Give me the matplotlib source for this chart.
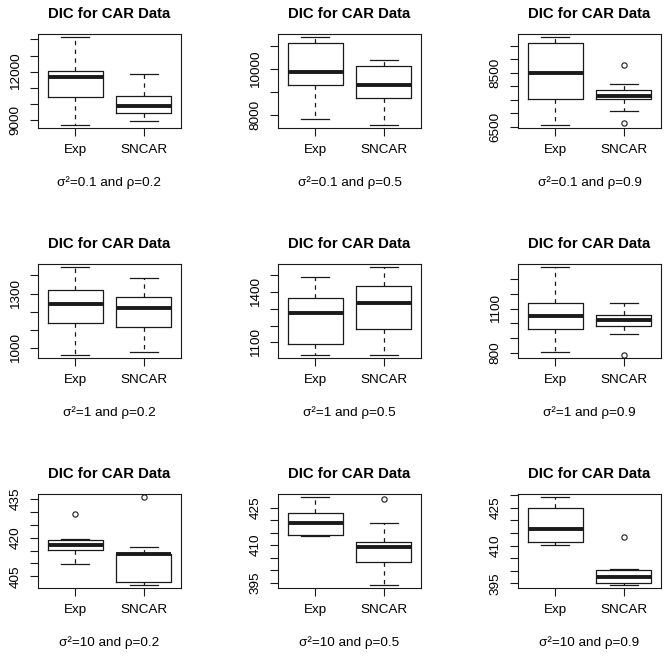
import matplotlib
matplotlib.use("Agg")
import matplotlib.pyplot as plt

plt.rcParams['font.family'] = ['Liberation Sans', 'DejaVu Sans']

groups = ["Exp", "SNCAR"]
sigma2 = ["0.1", "1", "10"]
rho = ["0.2", "0.5", "0.9"]

# five-number summaries: whislo, q1, med, q3, whishi
exp_stats = [
    [8711, 10412, 11639, 12062, 14124],
    [7813, 9317, 9885, 11130, 11374],
    [6574, 7537, 8512, 9599, 9821],
    [963, 1138, 1241, 1318, 1444],
    [1026, 1090, 1274, 1364, 1488],
    [811, 960, 1047, 1134, 1376],
    [409.8, 415.1, 417.2, 419.1, 419.4],
    [413.7, 414.1, 418.8, 422.9, 429.0],
    [410.1, 411.4, 416.6, 425.0, 429.1],
]
sncar_stats = [
    [8918, 9412, 9866, 10495, 11825],
    [7583, 8727, 9288, 10144, 10388],
    [7080, 7537, 7636, 7877, 8099],
    [976, 1115, 1218, 1280, 1387],
    [1026, 1178, 1334, 1436, 1548],
    [927, 983, 1022, 1056, 1134],
    [401.8, 402.7, 413.5, 413.5, 416.2],
    [394.3, 403.1, 409.1, 411.2, 418.7],
    [394.5, 395.1, 397.6, 400.2, 400.5],
]
exp_out = [[], [], [], [], [], [], [429.1], [], []]
sncar_out = [[], [], [8778, 6636], [], [], [791], [435.6], [428.3], [413.2]]

# y axis ticks and the labels R kept
y_ticks = [
    [9000, 10000, 11000, 12000, 13000, 14000],
    [8000, 9000, 10000, 11000],
    [6500, 7000, 7500, 8000, 8500, 9000, 9500],
    [1000, 1100, 1200, 1300, 1400],
    [1100, 1200, 1300, 1400, 1500],
    [800, 900, 1000, 1100, 1200, 1300],
    [405, 410, 415, 420, 425, 430, 435],
    [395, 400, 405, 410, 415, 420, 425],
    [395, 400, 405, 410, 415, 420, 425, 430],
]
y_labels = [
    [9000, 12000], [8000, 10000], [6500, 8500],
    [1000, 1300], [1100, 1400], [800, 1100],
    [405, 420, 435], [395, 410, 425], [395, 410, 425],
]

W, H = 669, 657
fig = plt.figure(figsize=(W / 100, H / 100), dpi=100)

col_left = [38, 278, 518]
row_top = [34, 264, 494]
aw, ah = 143, 94
lc = "#1a1a1a"

for i in range(9):
    r, c = divmod(i, 3)
    ax = fig.add_axes([col_left[c] / W, 1 - (row_top[r] + ah) / H, aw / W, ah / H])
    st = []
    for s, o, lab in ((exp_stats[i], exp_out[i], groups[0]),
                      (sncar_stats[i], sncar_out[i], groups[1])):
        st.append(dict(whislo=s[0], q1=s[1], med=s[2], q3=s[3], whishi=s[4],
                       fliers=o, label=lab))
    ax.bxp(st, positions=[1, 2], widths=0.8, capwidths=0.4, patch_artist=False,
           boxprops=dict(color=lc, lw=0.9),
           medianprops=dict(color=lc, lw=2.8, solid_capstyle='butt'),
           whiskerprops=dict(color=lc, lw=0.9, linestyle=(0, (3.5, 3.5))),
           capprops=dict(color=lc, lw=0.9),
           flierprops=dict(marker='o', markersize=3.8, markerfacecolor='none',
                           markeredgecolor=lc, markeredgewidth=0.8))
    vals = exp_stats[i] + sncar_stats[i] + exp_out[i] + sncar_out[i]
    lo, hi = min(vals), max(vals)
    pad = 0.04 * (hi - lo)
    ax.set_ylim(lo - pad, hi + pad)
    ax.set_xlim(0.46, 2.54)
    ax.set_yticks(y_ticks[i])
    ax.set_yticklabels([str(v) if v in y_labels[i] else "" for v in y_ticks[i]])
    ax.set_xticks([1, 2])
    ax.set_xticklabels(groups)
    ax.tick_params(axis='both', length=5.8, width=0.8, color=lc, labelsize=9.7)
    ax.tick_params(axis='x', pad=6)
    ax.tick_params(axis='y', pad=6, labelrotation=90)
    for lbl in ax.get_yticklabels():
        lbl.set_va('center')
    for sp in ax.spines.values():
        sp.set_linewidth(0.8)
        sp.set_color(lc)
    ax.set_title("DIC for CAR Data", fontsize=10.7, fontweight='bold', pad=11.3)
    ax.annotate("σ²=" + sigma2[r] + " and ρ=" + rho[c], xy=(0.5, 0),
                xycoords='axes fraction', xytext=(0, -39.6),
                textcoords='offset points', ha='center', va='center',
                fontsize=9.7)

fig.savefig("out.png", dpi=100)
